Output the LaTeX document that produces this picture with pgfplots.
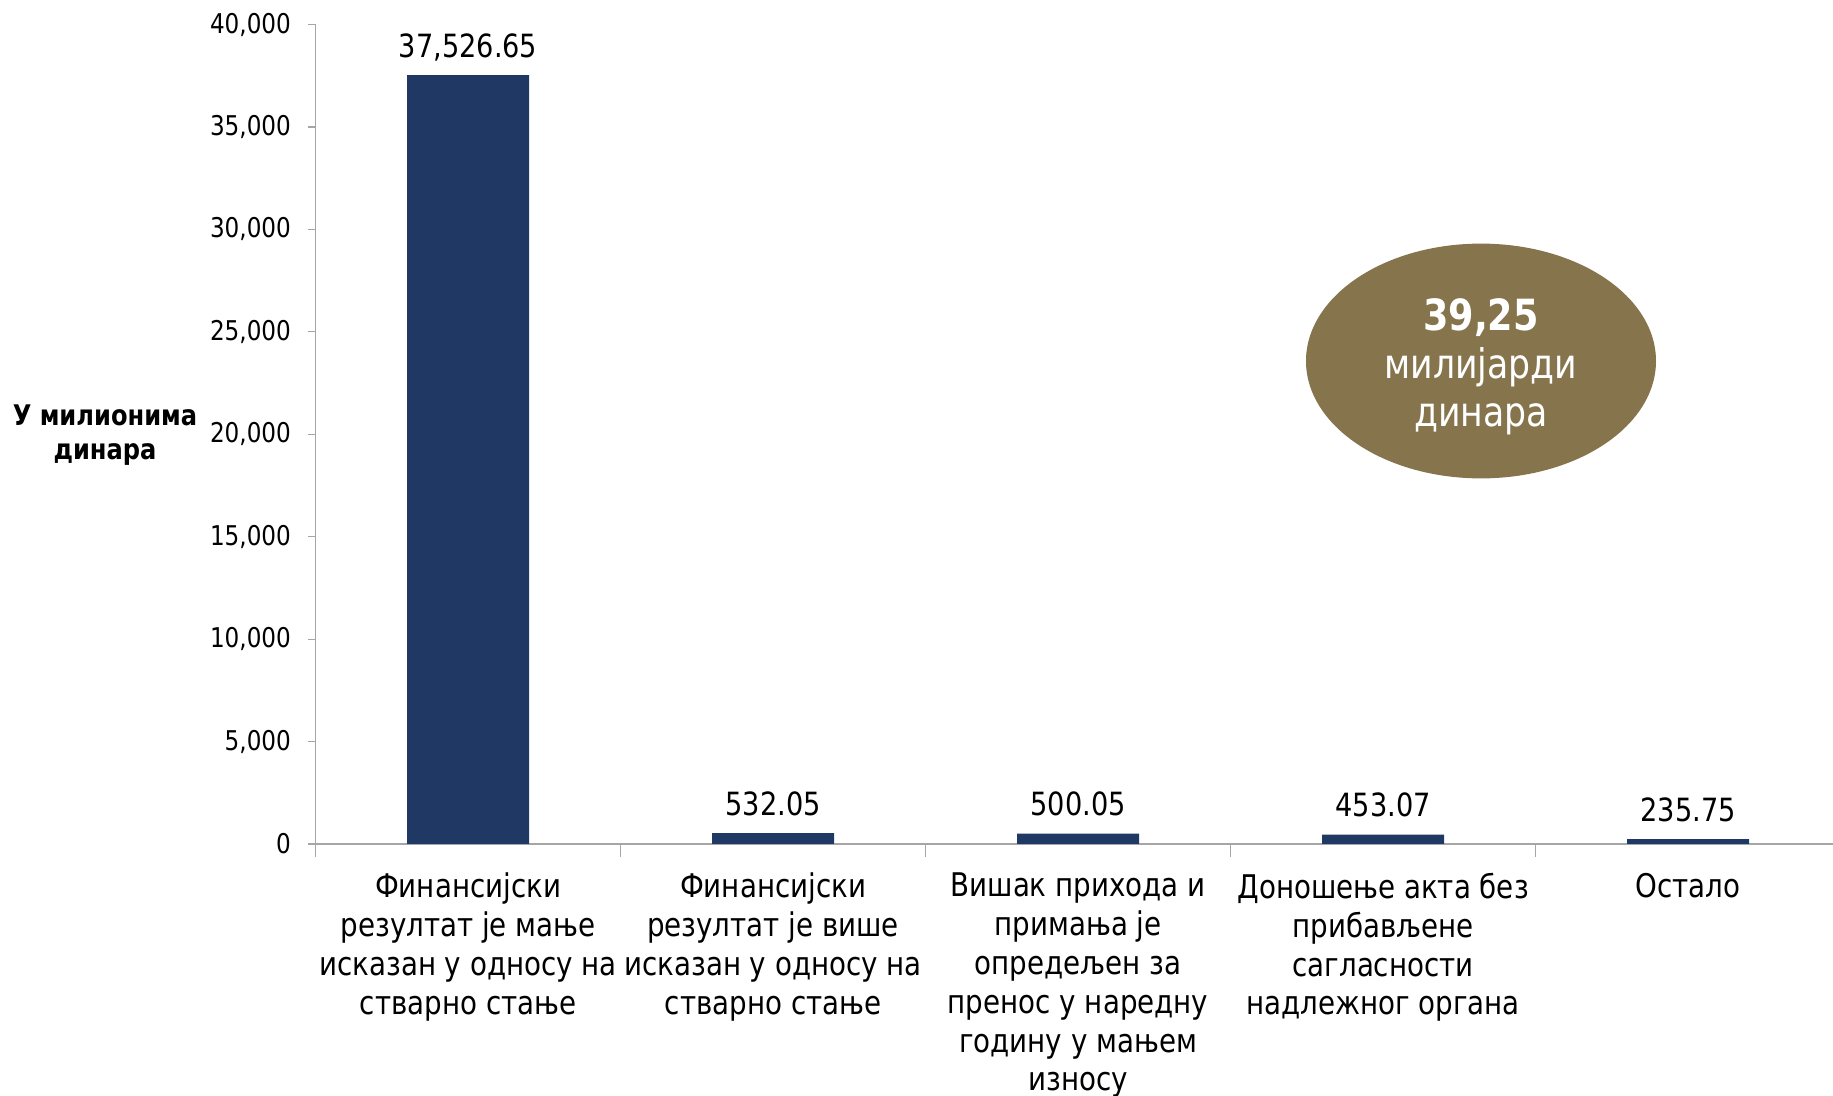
\documentclass[border=0pt]{standalone}
\usepackage{pgfplots}
\pgfplotsset{compat=1.18}
\usepackage{fontspec}
\setmainfont{DejaVu Sans}[FakeStretch=0.85]
\definecolor{barblue}{RGB}{31,56,100}
\definecolor{olivebox}{RGB}{134,117,76}
\definecolor{axgray}{RGB}{166,166,166}
\begin{document}
\begin{tikzpicture}
\path[use as bounding box] (-157.8pt,-126pt) rectangle (758.7pt,422pt);
\begin{axis}[
    scale only axis, width=762.5pt, height=409.75pt,
    ybar, bar width=61pt,
    xmin=-0.5, xmax=4.5, ymin=0, ymax=40000,
    axis lines*=left,
    x axis line style={axgray, line width=1.2pt},
    y axis line style={axgray, line width=0.6pt},
    tick align=outside, tick style={axgray, line width=0.6pt},
    major tick length=4pt, minor tick length=6.5pt,
    xtick={0,1,2,3,4}, major x tick style={draw=none},
    minor xtick={-0.5,0.5,1.5,2.5,3.5,4.5},
    xticklabels={
      {Финансијски\\резултат је мање\\исказан у односу на\\стварно стање},
      {Финансијски\\резултат је више\\исказан у односу на\\стварно стање},
      {Вишак прихода и\\примања је\\опредељен за\\пренос у наредну\\годину у мањем\\износу},
      {Доношење акта без\\прибављене\\сагласности\\надлежног органа},
      {Остало}},
    xticklabel style={align=center, anchor=north, inner sep=0pt, yshift=-10.4pt,
      font=\fontsize{16.3}{19.4}\selectfont},
    ytick={0,5000,...,40000},
    scaled y ticks=false,
    yticklabel style={font=\fontsize{13.6}{16}\selectfont, xshift=-4.8pt,
      /pgf/number format/.cd, fixed, precision=0, 1000 sep={,}, assume math mode=true},
    nodes near coords,
    nodes near coords style={font=\fontsize{16}{19}\selectfont, text depth=0pt, inner sep=0pt, yshift=8.8pt,
      /pgf/number format/.cd, fixed, fixed zerofill, precision=2, 1000 sep={,}, assume math mode=true},
    clip=false,
]
\addplot[fill=barblue, draw=none] coordinates {(0,37526.65) (1,532.05) (2,500.05) (3,453.07) (4,235.75)};
\fill[olivebox] (axis cs:3.321,23575) ellipse [x radius=87.5pt, y radius=58.7pt];
\node[text=white, align=center, font=\fontsize{20.4}{24}\selectfont] at (axis cs:3.321,23300)
  {{\bfseries\fontsize{21.5}{24}\selectfont 39,25}\\милијарди\\динара};
\node[align=center, font=\bfseries\fontsize{14.2}{16.6}\selectfont] at (rel axis cs:0,0.499) [xshift=-105.3pt]
  {У милионима\\динара};
\end{axis}
\end{tikzpicture}
\end{document}
